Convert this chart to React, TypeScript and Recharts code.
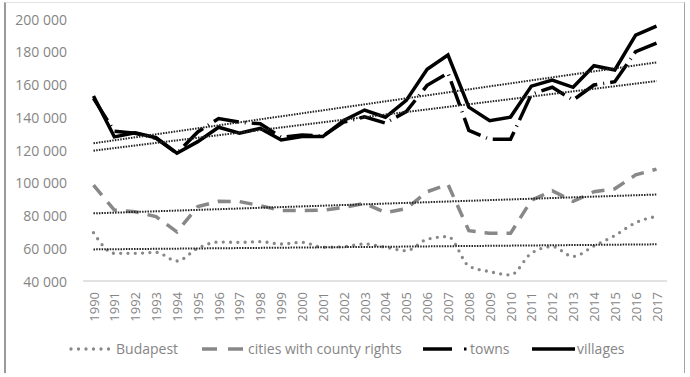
import React from "react";
import { LineChart, Line, XAxis, YAxis } from "recharts";

const YEARS = [
  "1990", "1991", "1992", "1993", "1994", "1995", "1996", "1997", "1998", "1999",
  "2000", "2001", "2002", "2003", "2004", "2005", "2006", "2007", "2008", "2009",
  "2010", "2011", "2012", "2013", "2014", "2015", "2016", "2017",
];

const BUDAPEST = [
  69500, 56900, 56900, 57500, 52200, 60000, 63800, 63600, 64000, 62600,
  63600, 60600, 61000, 62600, 60600, 58500, 65500, 67100, 49200, 45700,
  43700, 57000, 61000, 55000, 61400, 67800, 75600, 79500,
];
const CITIES = [
  98500, 83300, 82300, 79300, 70000, 85400, 88700, 88500, 86000, 83000,
  83000, 83200, 85000, 87400, 81800, 84200, 94500, 99000, 70700, 69100,
  69100, 89300, 95100, 88600, 94500, 96300, 104800, 108300,
];
const TOWNS = [
  151500, 131500, 130200, 127200, 118000, 131000, 139200, 137000, 136000, 127800,
  129200, 128500, 137000, 140300, 136400, 143500, 159500, 167000, 132000, 126500,
  126500, 154000, 158300, 150500, 159700, 161700, 180000, 185300,
];
const VILLAGES = [
  153000, 128000, 130500, 127500, 118000, 125100, 133900, 130300, 133200, 126100,
  128200, 128200, 138000, 144400, 140000, 150300, 169300, 178000, 146200, 137900,
  140100, 159000, 162700, 158300, 171500, 168900, 190200, 195700,
];

// linear trend lines: values at first and last year
const BUDAPEST_TREND = [59300, 62400];
const CITIES_TREND = [81300, 92800];
const TOWNS_TREND = [119600, 162100];
const VILLAGES_TREND = [124100, 173500];

const Y_TICKS = [40000, 60000, 80000, 100000, 120000, 140000, 160000, 180000, 200000];

const GREY = "#888888";
const TEXT = "#858585";
const FONT = "'Open Sans', 'Noto Sans', sans-serif";

const ends = (pair: number[], i: number) =>
  i === 0 ? pair[0] : i === YEARS.length - 1 ? pair[1] : null;

const data = YEARS.map((year, i) => ({
  year,
  budapest: BUDAPEST[i],
  cities: CITIES[i],
  towns: TOWNS[i],
  villages: VILLAGES[i],
  budapestTrend: ends(BUDAPEST_TREND, i),
  citiesTrend: ends(CITIES_TREND, i),
  townsTrend: ends(TOWNS_TREND, i),
  villagesTrend: ends(VILLAGES_TREND, i),
}));

const fmt = (v: number) => String(v).replace(/\B(?=(\d{3})+(?!\d))/g, " ");

const YTick = (props: any) => {
  const { y, payload } = props;
  return (
    <text x={67} y={y} textAnchor="end" dominantBaseline="central" fontSize={14} fill={TEXT} fontFamily={FONT}>
      {fmt(payload.value)}
    </text>
  );
};

const XTick = (props: any) => {
  const { x, payload } = props;
  return (
    <g transform={`translate(${x},292)`}>
      <text transform="rotate(-90)" textAnchor="end" dominantBaseline="central" fontSize={13} fill={TEXT} fontFamily={FONT}>
        {payload.value}
      </text>
    </g>
  );
};

const trendProps = {
  stroke: "#222",
  strokeWidth: 2,
  strokeDasharray: "1.5 1.2",
  dot: false,
  connectNulls: true,
  isAnimationActive: false,
  type: "linear" as const,
};

const legendText: React.CSSProperties = {
  position: "absolute",
  top: 339,
  fontSize: 14,
  lineHeight: "20px",
  color: TEXT,
  fontFamily: FONT,
  whiteSpace: "nowrap",
};

export default function App() {
  return (
    <div style={{ position: "absolute", left: 0, top: 0, width: 690, height: 377, background: "#fff", overflow: "hidden" }}>
      <div
        style={{
          position: "absolute",
          left: 4,
          top: 2,
          width: 678,
          height: 370,
          borderLeft: "2px solid #9a9a9a",
          borderTop: "1px solid #e2e2e2",
          borderRight: "1.5px solid #a5a5a5",
        }}
      />
      <div style={{ position: "absolute", left: 0, top: 0 }}>
        <LineChart width={690} height={377} data={data} margin={{ top: 19, right: 23, left: 0, bottom: 36 }}>
          <XAxis
            dataKey="year"
            interval={0}
            padding={{ left: 10.5, right: 10.5 }}
            axisLine={{ stroke: "#d9d9d9", strokeWidth: 1.5 }}
            tickLine={false}
            height={60}
            tick={<XTick />}
          />
          <YAxis
            type="number"
            domain={[40000, 200000]}
            ticks={Y_TICKS}
            width={83}
            axisLine={false}
            tickLine={false}
            tick={<YTick />}
          />
          <Line dataKey="budapest" type="monotone" stroke={GREY} strokeWidth={3.3} strokeDasharray="0 7.3" strokeLinecap="round" dot={false} isAnimationActive={false} />
          <Line dataKey="cities" type="linear" stroke={GREY} strokeWidth={3.5} strokeDasharray="13 9" dot={false} isAnimationActive={false} />
          <Line dataKey="towns" type="linear" stroke="#000" strokeWidth={3.5} strokeDasharray="26 6 1 6" dot={false} isAnimationActive={false} />
          <Line dataKey="villages" type="linear" stroke="#000" strokeWidth={3.5} dot={false} isAnimationActive={false} />
          <Line dataKey="budapestTrend" {...trendProps} />
          <Line dataKey="citiesTrend" {...trendProps} />
          <Line dataKey="townsTrend" {...trendProps} />
          <Line dataKey="villagesTrend" {...trendProps} />
        </LineChart>
      </div>
      <svg width={690} height={20} style={{ position: "absolute", left: 0, top: 339 }}>
        <line x1={71} y1={10} x2={110} y2={10} stroke={GREY} strokeWidth={3.3} strokeDasharray="0 7.5" strokeLinecap="round" />
        <line x1={202} y1={10} x2={243} y2={10} stroke={GREY} strokeWidth={3.5} strokeDasharray="15 11" />
        <line x1={423} y1={10} x2={452} y2={10} stroke="#000" strokeWidth={3.5} />
        <line x1={464} y1={10} x2={466.5} y2={10} stroke="#000" strokeWidth={3} />
        <line x1={532} y1={10} x2={575} y2={10} stroke="#000" strokeWidth={3.5} />
      </svg>
      <div style={{ ...legendText, left: 116 }}>Budapest</div>
      <div style={{ ...legendText, left: 248 }}>cities with county rights</div>
      <div style={{ ...legendText, left: 470 }}>towns</div>
      <div style={{ ...legendText, left: 577 }}>villages</div>
    </div>
  );
}
